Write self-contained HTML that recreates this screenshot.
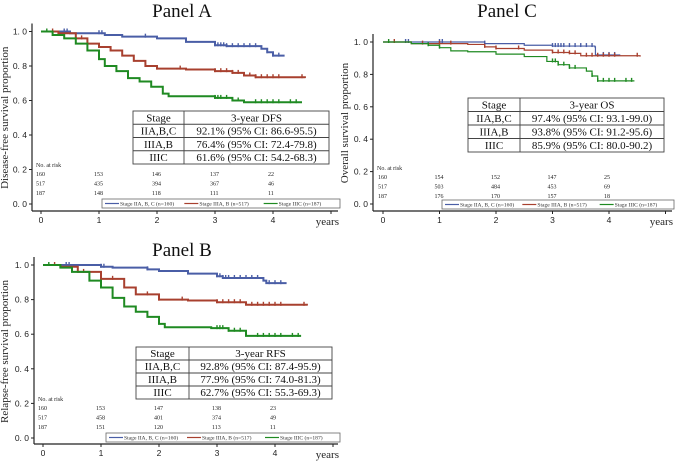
<!DOCTYPE html>
<html><head><meta charset="utf-8">
<style>
html,body{margin:0;padding:0;background:#fff;}
svg{display:block;font-family:"Liberation Serif",serif;}
.sm{font-family:"Liberation Serif",serif;font-size:6px;fill:#222;}
.tk{font-family:"Liberation Sans",sans-serif;font-size:8.5px;fill:#222;}
</style></head>
<body>
<svg id="fig" width="677" height="462" viewBox="0 0 677 462" xmlns="http://www.w3.org/2000/svg"></svg>
<script>
// ---- Data ----
const xTicks = [0,1,2,3,4];
const yTicks = [0,0.2,0.4,0.6,0.8,1.0];
const yTickLabels = ["0. 0","0. 2","0. 4","0. 6","0. 8","1. 0"];
const seriesNames = ["Stage IIA, B, C (n=160)","Stage IIIA, B (n=517)","Stage IIIC (n=187)"];
const stageLabels = ["IIA,B,C","IIIA,B","IIIC"];

// Panel A (DFS) step curves: [time, survival]
const aBlue  = [[0,1],[0.5,0.99],[1.1,0.98],[1.4,0.97],[2.0,0.96],[2.5,0.94],[3.0,0.92],[3.2,0.915],[3.8,0.90],[3.9,0.88],[4.0,0.86],[4.2,0.86]];
const aRed   = [[0,1],[0.3,0.99],[0.6,0.96],[0.8,0.93],[1.0,0.91],[1.2,0.89],[1.4,0.86],[1.6,0.83],[1.8,0.80],[2.0,0.785],[2.5,0.78],[3.0,0.77],[3.3,0.76],[3.5,0.745],[3.7,0.735],[4.55,0.73]];
const aGreen = [[0,1],[0.2,0.98],[0.4,0.96],[0.6,0.93],[0.8,0.89],[1.0,0.84],[1.1,0.80],[1.3,0.77],[1.5,0.73],[1.7,0.71],[1.9,0.68],[2.1,0.64],[2.2,0.625],[3.0,0.615],[3.3,0.60],[3.5,0.59],[4.5,0.59]];
const aRiskBlue  = ["160","153","146","137","22"];
const aRiskRed   = ["517","435","394","367","46"];
const aRiskGreen = ["187","148","118","111","11"];
const aRates = ["92.1% (95% CI: 86.6-95.5)","76.4% (95% CI: 72.4-79.8)","61.6% (95% CI: 54.2-68.3)"];

// Panel B (RFS)
const bBlue  = [[0,1],[1.0,0.99],[1.2,0.985],[1.8,0.975],[2.0,0.965],[2.5,0.95],[3.0,0.935],[3.1,0.925],[3.8,0.91],[3.85,0.895],[4.2,0.895]];
const bRed   = [[0,1],[0.3,0.99],[0.6,0.96],[1.0,0.92],[1.4,0.87],[1.6,0.83],[2.0,0.80],[2.5,0.795],[3.0,0.785],[3.5,0.77],[4.55,0.765]];
const bGreen = [[0,1],[0.3,0.985],[0.5,0.96],[0.8,0.91],[1.0,0.87],[1.2,0.81],[1.4,0.76],[1.6,0.73],[1.8,0.70],[2.0,0.66],[2.1,0.64],[2.9,0.635],[3.2,0.62],[3.5,0.59],[4.45,0.59]];
const bRiskBlue  = ["160","153","147","138","23"];
const bRiskRed   = ["517","458","401","374","49"];
const bRiskGreen = ["187","151","120","113","11"];
const bRates = ["92.8% (95% CI: 87.4-95.9)","77.9% (95% CI: 74.0-81.3)","62.7% (95% CI: 55.3-69.3)"];

// Panel C (OS)
const cBlue  = [[0,1],[1.8,0.99],[2.5,0.98],[3.0,0.975],[3.75,0.97],[3.76,0.92],[4.2,0.92]];
const cRed   = [[0,1],[0.5,0.99],[1.5,0.985],[1.8,0.97],[2.0,0.96],[2.5,0.95],[3.0,0.935],[3.3,0.93],[3.5,0.915],[4.55,0.91]];
const cGreen = [[0,1],[0.5,0.99],[0.8,0.98],[1.0,0.965],[1.2,0.945],[1.5,0.94],[2.0,0.925],[2.5,0.91],[2.9,0.88],[3.1,0.86],[3.3,0.84],[3.6,0.82],[3.7,0.79],[3.8,0.76],[4.45,0.76]];
const cRiskBlue  = ["160","154","152","147","25"];
const cRiskRed   = ["517","503","484","453","69"];
const cRiskGreen = ["187","176","170","157","18"];
const cRates = ["97.4% (95% CI: 93.1-99.0)","93.8% (95% CI: 91.2-95.6)","85.9% (95% CI: 80.0-90.2)"];

// censor mark times
const censorBlue  = [0.4,0.45,1.0,1.05,1.8,3.0,3.05,3.1,3.15,3.2,3.3,3.4,3.5,3.6,3.7,3.9,4.0,4.1];
const censorRed   = [0.2,0.7,1.0,1.2,1.8,2.0,2.4,3.0,3.1,3.2,3.3,3.4,3.6,3.7,3.8,3.9,4.0,4.1,4.5];
const censorGreen = [0.1,0.8,1.0,3.0,3.05,3.1,3.2,3.3,3.4,3.7,3.8,3.9,4.0,4.1,4.3,4.4];

const COLORS = ["#4a5ea6","#a8402f","#1f8a22"];
const NS = "http://www.w3.org/2000/svg";
const svg = document.getElementById("fig");

function el(tag, attrs, parent, text){
  const e = document.createElementNS(NS, tag);
  for (const k in attrs) e.setAttribute(k, attrs[k]);
  if (text !== undefined) e.textContent = text;
  (parent||svg).appendChild(e);
  return e;
}

function survAt(curve, t){
  let s = curve[0][1];
  for (const p of curve){ if (p[0] <= t) s = p[1]; }
  return s;
}

function drawPanel(P){
  const g = el("g", {});
  
  
  const xs = v => P.x0 + v*P.xs;
  const ys = v => P.y0 - v*(P.y0 - P.y1);

  const t = el("text",{x:P.titleX,y:P.titleY,"font-size":19,"text-anchor":"middle",fill:"#111"},g,P.title);
  
  

  const ya = el("line",{x1:P.ax,y1:P.y1-8,x2:P.ax,y2:P.axY,stroke:"#222","stroke-width":1.2},g);
  
  
  const xa = el("line",{x1:P.ax,y1:P.axY,x2:P.xEnd,y2:P.axY,stroke:"#222","stroke-width":1.2},g);
  
  

  yTicks.forEach((v,i)=>{
    el("line",{x1:P.ax-3,y1:ys(v),x2:P.ax,y2:ys(v),stroke:"#222"},g);
    const l = el("text",{x:P.ax-5,y:ys(v)+3,"text-anchor":"end",class:"tk"},g,yTickLabels[i]);
    
    
  });
  xTicks.forEach(v=>{
    el("line",{x1:xs(v),y1:P.axY,x2:xs(v),y2:P.axY+3,stroke:"#222"},g);
    const l = el("text",{x:xs(v),y:P.axY+12,"text-anchor":"middle",class:"tk"},g,String(v));
    
    
  });
  if (xs(5) < P.xEnd) el("line",{x1:xs(5),y1:P.axY,x2:xs(5),y2:P.axY+3,stroke:"#222"},g);
  const yr = el("text",{x:P.xEnd+1,y:P.axY+14,"font-size":11,fill:"#222","text-anchor":"end"},g,"years");
  
  

  const yt = el("text",{x:0,y:0,"font-size":11,fill:"#222","text-anchor":"middle",
    transform:`translate(${P.ytX},${(P.y1+P.y0)/2}) rotate(-90)`},g,P.ylabel);
  
  

  P.curves.forEach((c,ci)=>{
    let d = "M"+xs(c[0][0])+","+ys(c[0][1]);
    for (let i=1;i<c.length;i++){
      d += " H"+xs(c[i][0])+" V"+ys(c[i][1]);
    }
    const path = el("path",{d:d,fill:"none",stroke:COLORS[ci],"stroke-width":P.lw},g);
    
    
    const cens = [censorBlue,censorRed,censorGreen][ci];
    const tmax = c[c.length-1][0];
    cens.forEach(tc=>{
      if (tc > tmax) return;
      const s = survAt(c, tc);
      const m = el("line",{x1:xs(tc),y1:ys(s)-3,x2:xs(tc),y2:ys(s)+1,stroke:COLORS[ci],"stroke-width":1.4},g);
      
      
    });
  });

  const nr = el("text",{x:P.ax+4,y:P.riskY,class:"sm"},g,"No. at risk");
  
  
  P.risk.forEach((row,ri)=>{
    row.forEach((v,i)=>{
      const r = el("text",{x:xs(xTicks[i])-5,y:P.riskY+9+ri*9.5,class:"sm"},g,v);
      
      
    });
  });

  const lg = el("g",{},g);
  
  
  el("rect",{x:P.lg[0],y:P.lg[1],width:P.lg[2],height:9,fill:"#fff",stroke:"#666","stroke-width":0.8},lg);
  const seg = P.lg[2]/3;
  seriesNames.forEach((n,i)=>{
    const lx = P.lg[0]+3+i*seg;
    el("line",{x1:lx,y1:P.lg[1]+4.5,x2:lx+14,y2:P.lg[1]+4.5,stroke:COLORS[i],"stroke-width":1.2},lg);
    const e = el("text",{x:lx+15,y:P.lg[1]+6.5,"font-size":5.6,fill:"#333"},lg,n);
    
    
  });

  const tb = el("g",{},g);
  
  
  const [tx,ty,tw,th,tdiv] = P.tbl;
  el("rect",{x:tx,y:ty,width:tw,height:th,fill:"#fff",stroke:"#444","stroke-width":0.9},tb);
  el("line",{x1:tdiv,y1:ty,x2:tdiv,y2:ty+th,stroke:"#444","stroke-width":0.9},tb);
  const rh = th/4;
  for (let i=1;i<4;i++) el("line",{x1:tx,y1:ty+i*rh,x2:tx+tw,y2:ty+i*rh,stroke:"#444","stroke-width":0.9},tb);
  const fs = 11;
  el("text",{x:(tx+tdiv)/2,y:ty+rh-3,"text-anchor":"middle","font-size":fs,fill:"#111"},tb,"Stage");
  el("text",{x:(tdiv+tx+tw)/2,y:ty+rh-3,"text-anchor":"middle","font-size":fs,fill:"#111"},tb,P.hdr);
  stageLabels.forEach((s,i)=>{
    el("text",{x:(tx+tdiv)/2,y:ty+(i+2)*rh-3,"text-anchor":"middle","font-size":fs,fill:"#111"},tb,s);
    el("text",{x:(tdiv+tx+tw)/2,y:ty+(i+2)*rh-3,"text-anchor":"middle","font-size":fs,fill:"#111"},tb,P.rates[i]);
  });
}

drawPanel({id:"panel-a",title:"Panel A",titleX:182,titleY:17,ylabel:"Disease-free survival proportion",ytX:8,
  ax:32,axY:211,xEnd:338,x0:41,xs:58,y0:204,y1:31.5,lw:2,
  curves:[aBlue,aRed,aGreen],risk:[aRiskBlue,aRiskRed,aRiskGreen],riskY:167,
  lg:[102,199,238],tbl:[133,111,196,53,184],hdr:"3-year DFS",rates:aRates});

drawPanel({id:"panel-c",title:"Panel C",titleX:507,titleY:17,ylabel:"Overall survival proportion",ytX:348,
  ax:373,axY:211,xEnd:672,x0:383,xs:56.5,y0:204,y1:42,lw:1.2,
  curves:[cBlue,cRed,cGreen],risk:[cRiskBlue,cRiskRed,cRiskGreen],riskY:170,
  lg:[442,200,232],tbl:[468,98,196,54,520],hdr:"3-year OS",rates:cRates});

drawPanel({id:"panel-b",title:"Panel B",titleX:182,titleY:256,ylabel:"Relapse-free survival proportion",ytX:8,
  ax:34,axY:444,xEnd:338,x0:43,xs:58,y0:438,y1:265,lw:2,
  curves:[bBlue,bRed,bGreen],risk:[bRiskBlue,bRiskRed,bRiskGreen],riskY:401,
  lg:[106,433,234],tbl:[136,347,196,52,189],hdr:"3-year RFS",rates:bRates});
</script>
</body></html>
